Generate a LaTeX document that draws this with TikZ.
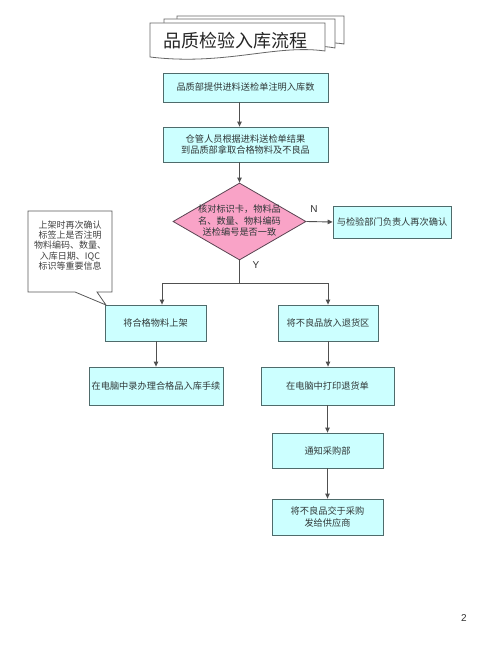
\documentclass[tikz,border=0pt]{standalone}
\usepackage{fontspec}
\newfontfamily\cjk{Noto Sans CJK SC}
\setsansfont{Liberation Sans}
\usetikzlibrary{shapes.geometric,arrows.meta}
\definecolor{boxfill}{HTML}{CCFFFF}
\definecolor{boxline}{HTML}{4F6B6B}
\definecolor{pinkfill}{HTML}{F9A3C7}
\definecolor{pinkline}{HTML}{5A4452}
\definecolor{txt}{HTML}{303838}
\definecolor{arr}{HTML}{505050}
\tikzset{
  x=1pt,y=-1pt,
  procbox/.style={draw=boxline,fill=boxfill,line width=0.8pt,inner sep=0pt,
    font=\cjk\fontsize{9.2}{11.5}\selectfont,text=txt,align=center},
  flow/.style={draw=arr,line width=0.9pt,-{Triangle[length=5pt,width=4.5pt]}},
  plain/.style={draw=arr,line width=0.9pt},
  sheet/.style={draw=black!60,fill=white,line width=0.8pt},
  lbl/.style={font=\sffamily\fontsize{10}{12}\selectfont,text=black!80},
}
\begin{document}
\begin{tikzpicture}
\useasboundingbox[fill=white] (0,0) rectangle (500,652);
% title sheets
\path[sheet] (177,16) -- (344,16) -- (344,44) .. controls (320,40) and (300,47) .. (177,45) -- cycle;
\path[sheet] (164,19) -- (335,19) -- (335,48) .. controls (310,43) and (290,51) .. (164,48) -- cycle;
\path[sheet] (150,23) -- (325,23) -- (325,51) .. controls (275,44) and (225,66) .. (150,57) -- cycle;
\node[font=\cjk\fontsize{18}{20}\selectfont,text=black!85] (title) at (235,41) {品质检验入库流程};
% boxes
\node[procbox,minimum width=165pt,minimum height=29pt] (b1) at (245.5,87.5) {品质部提供进料送检单注明入库数};
\node[procbox,minimum width=165pt,minimum height=35pt] (b2) at (245.5,144.5) {仓管人员根据进料送检单结果\\到品质部拿取合格物料及不良品};
\node[diamond,draw=pinkline,fill=pinkfill,line width=0.8pt,aspect=1.73,inner sep=0pt,minimum width=133pt,minimum height=77pt] (d) at (239.5,221.5) {};
\node[font=\cjk\fontsize{9.2}{11.5}\selectfont,text=txt,align=center] (dt) at (239.5,220.5) {核对标识卡，物料品\\名、数量、物料编码\\送检编号是否一致};
\node[procbox,minimum width=118pt,minimum height=32pt] (n) at (392,222) {与检验部门负责人再次确认};
\node[procbox,minimum width=101pt,minimum height=36pt] (l1) at (155.5,323) {将合格物料上架};
\node[procbox,minimum width=100pt,minimum height=36pt] (r1) at (328,323) {将不良品放入退货区};
\node[procbox,minimum width=134pt,minimum height=38pt] (l2) at (156,386) {在电脑中录办理合格品入库手续};
\node[procbox,minimum width=133pt,minimum height=38pt] (r2) at (327.5,386) {在电脑中打印退货单};
\node[procbox,minimum width=111pt,minimum height=35pt] (r3) at (327.5,450.5) {通知采购部};
\node[procbox,minimum width=111pt,minimum height=36pt] (r4) at (327.5,517) {将不良品交于采购\\发给供应商};
% callout
\coordinate (tip) at (106,305);
\path[draw=black!65,fill=white,line width=0.8pt] (28,211) -- (112,211) -- (112,292) -- (97,292) -- (tip) -- (75,292) -- (28,292) -- cycle;
\node[font=\cjk\fontsize{9}{10.3}\selectfont,text=black!75,align=center] (call) at (70,245.5) {上架时再次确认\\标签上是否注明\\物料编码、数量、\\入库日期、IQC\\标识等重要信息};
% connectors
\coordinate (ax) at (239.5,0);
\draw[flow] (b1.south -| ax) -- (b2.north -| ax);
\draw[flow] (b2.south -| ax) -- (d.north);
\draw[flow] (d.east) -- (n.west);
\coordinate (br) at (239.5,283);
\coordinate (brl) at (162,283);
\coordinate (brr) at (328,283);
\draw[plain] (d.south) -- (br);
\draw[plain] (brl) -- (brr);
\draw[flow] (brl) -- (brl |- l1.north);
\draw[flow] (brr) -- (r1.north);
\draw[flow] (l1.south -| l2.north) -- (l2.north);
\draw[flow] (r1.south) -- (r1.south |- r2.north);
\draw[flow] (r2.south -| r3.north) -- (r3.north);
\draw[flow] (r3.south) -- (r4.north);
% labels
\node[lbl] (nl) at (314,209) {N};
\node[lbl] (yl) at (256,265) {Y};
\node[lbl] (pg) at (464,618) {2};
\end{tikzpicture}
\end{document}
